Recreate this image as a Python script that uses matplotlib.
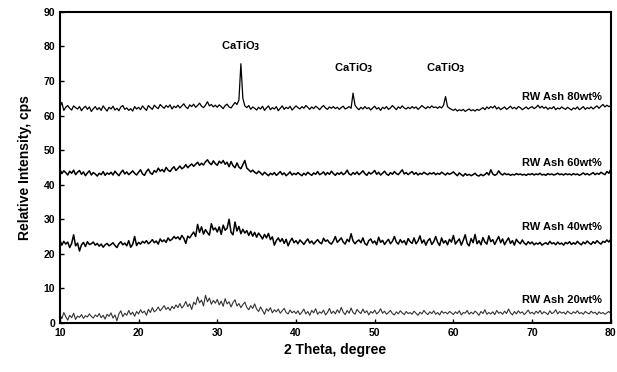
import matplotlib
matplotlib.use("Agg")
import matplotlib.pyplot as plt
import numpy as np

plt.rcParams['font.family'] = ['Liberation Sans', 'DejaVu Sans']

# 2 theta grid, 0.25 deg step from 10 to 80
two_theta = np.arange(10, 80.001, 0.25)

# RW Ash 80wt% (5 deg per row)
ash80 = [
    62.5, 63.8, 61.5, 62.4, 62.9, 62.1, 61.6, 62.8, 62.3, 61.9, 62.6, 61.4, 62.2, 62.7, 61.8, 62.5, 61.2, 62.0, 62.6, 61.7,
    62.3, 61.5, 62.8, 62.0, 61.3, 62.4, 61.9, 62.7, 61.6, 62.1, 61.4, 62.5, 62.9, 61.8, 62.2, 61.5, 62.0, 61.3, 62.6, 61.9,
    62.4, 61.7, 62.8, 62.1, 61.5, 62.9, 62.3, 61.8, 63.0, 62.4, 62.0, 63.2, 62.6, 62.1, 62.9, 62.4, 63.1, 61.9, 62.7, 62.3,
    63.0, 62.2, 62.8, 63.4, 62.5, 62.0, 63.1, 62.6, 63.3, 62.4, 62.9, 63.6, 62.7, 62.3, 63.0, 64.0, 62.8, 63.2, 62.5, 63.0,
    62.4, 63.1, 62.6, 62.0, 62.9, 63.3, 62.5, 62.2, 63.0, 63.8, 63.2, 64.5, 75.0, 65.0, 62.8, 62.3, 62.9, 61.8, 62.5, 62.1,
    61.6, 62.4, 61.9, 62.7, 61.5, 62.2, 62.8, 61.7, 62.3, 61.9, 62.6, 61.4, 62.1, 62.8, 61.8, 62.4, 62.0, 62.7, 61.6, 62.2,
    62.8, 62.3, 61.9, 62.6, 62.1, 62.9, 62.4, 61.8, 62.5, 62.0, 62.7, 62.3, 61.7, 62.4, 62.9, 62.2, 61.8, 62.5, 62.1, 62.6,
    62.0, 62.4, 61.8, 62.3, 62.7, 61.9, 62.2, 62.6, 62.1, 66.5, 63.0, 62.2, 61.7, 62.4, 61.9, 62.6, 62.0, 62.3, 61.6, 62.2,
    62.7, 61.9, 62.3, 61.5, 62.4, 62.0, 62.6, 61.8, 62.2, 62.9, 62.3, 61.7, 62.5, 62.1, 62.8, 62.2, 61.9, 62.4, 62.0, 62.6,
    62.1, 62.5, 61.8, 62.3, 62.9, 62.4, 62.0, 62.6, 62.2, 62.8, 62.3, 62.5, 62.1, 62.6, 62.2, 63.0, 65.5, 62.6, 62.1, 61.8,
    61.5, 61.9, 61.3, 61.7, 61.4, 61.8, 61.2, 61.6, 61.9, 61.4, 61.7, 61.3, 61.8, 61.5, 61.9, 62.3, 61.7, 62.5, 62.0, 62.6,
    62.2, 62.8, 61.9, 62.4, 61.7, 62.1, 62.5, 61.8, 62.2, 62.7, 62.0, 62.4, 61.9, 62.6, 62.3, 61.7, 62.1, 62.5, 61.9, 62.3,
    62.6, 62.0, 62.4, 63.0, 62.2, 62.7, 62.1, 62.5, 61.8, 62.3, 62.0, 62.6, 61.7, 62.2, 61.9, 62.5, 62.1, 61.8, 62.4, 62.0,
    61.6, 62.2, 61.9, 62.5, 61.7, 62.1, 62.6, 61.8, 62.3, 62.0, 62.5, 61.9, 62.4, 62.8, 62.1, 62.7, 63.2, 62.5, 63.0, 62.6,
    62.8,
]

# RW Ash 60wt%
ash60 = [
    44.5, 43.2, 44.0, 43.5, 42.8, 43.9, 43.3, 44.2, 42.9, 43.6, 44.1, 43.0, 43.7, 42.6, 43.4, 44.0, 42.8, 43.5, 43.1, 42.5,
    43.3, 42.9, 43.8, 42.7, 43.4, 43.0, 43.6, 42.8, 43.9, 43.2, 42.6, 43.5, 44.2, 43.1, 43.7, 42.9, 43.4, 44.0, 43.3, 42.8,
    43.6, 44.3, 43.1, 42.7, 43.8, 44.5, 43.4, 43.0, 44.1, 43.6, 44.8, 43.9, 44.4, 43.7, 45.0, 44.2, 43.8, 44.6, 45.2, 44.1,
    44.7, 45.4, 44.6, 45.0, 45.8, 44.9, 45.5, 46.0, 45.3, 45.9, 46.5, 45.6, 46.2, 45.7, 46.6, 47.2, 46.3, 45.8, 46.9, 46.1,
    45.6, 46.8, 46.2, 47.0, 45.9, 46.5, 45.2, 46.7, 45.5, 44.9, 46.3, 45.1, 44.6, 45.8, 47.0, 44.8, 44.3, 43.7, 44.2, 43.6,
    43.2, 43.9, 43.4, 42.8, 43.6, 43.1, 42.6, 43.3, 42.9, 43.5, 42.7, 43.2, 43.8, 42.9, 43.4, 42.6, 43.1, 43.7, 42.8, 43.3,
    42.9, 43.5, 43.0, 42.6, 43.3, 42.8, 43.6, 43.1, 42.7, 43.4, 43.0, 43.8, 42.9, 43.2, 43.7, 42.8, 43.5, 43.0, 43.9, 43.2,
    42.7, 43.4, 43.0, 43.6, 42.9, 43.3, 44.2, 43.1, 42.8, 43.5, 43.0, 43.7, 42.9, 43.4, 44.0, 43.2, 42.7, 43.6, 43.1, 43.5,
    44.1, 43.0, 43.6, 42.8, 43.3, 43.9, 43.1, 42.7, 43.5, 43.0, 43.8, 43.2, 42.9, 43.6, 44.3, 43.1, 43.5, 42.9, 43.4, 43.8,
    43.0, 43.5, 42.8, 43.3, 43.0, 43.6, 43.2, 42.9, 43.4, 43.1, 43.5, 42.9, 43.3, 43.0, 43.6, 43.2, 42.8, 43.4, 43.0, 43.3,
    43.7, 43.1, 42.6, 43.4, 42.9, 42.5, 43.2, 42.7, 43.0, 42.6, 42.9, 43.3, 42.7, 42.5, 43.0, 42.6, 42.9, 43.5, 42.8, 44.3,
    43.1, 42.7, 43.0, 44.0, 43.2, 42.8, 43.3, 42.9, 43.1, 42.7, 43.0, 42.8, 43.2, 42.9, 43.1, 42.8, 43.0, 42.7, 43.1, 42.9,
    43.2, 42.8, 43.1, 42.9, 43.3, 42.8, 43.0, 42.7, 43.2, 42.9, 43.1, 42.8, 43.0, 43.3, 42.9, 43.1, 42.8, 43.2, 42.9, 43.1,
    42.8, 43.2, 42.9, 43.1, 42.7, 43.0, 43.4, 42.9, 43.2, 42.8, 43.1, 43.5, 42.9, 43.3, 43.0, 43.6, 43.2, 42.9, 43.8, 43.3,
    44.5,
]

# RW Ash 40wt%
ash40 = [
    24.0, 22.5, 23.6, 22.8, 23.4, 21.8, 23.0, 25.5, 22.3, 23.1, 20.8, 22.6, 23.3, 22.1, 23.5, 22.7, 22.9, 23.4, 22.5, 23.0,
    22.2, 22.8, 21.9, 22.6, 23.0, 22.3, 22.7, 23.2, 22.4, 21.8, 22.9, 23.5, 22.6, 23.1, 22.3, 23.8, 21.9, 22.7, 25.0, 22.4,
    23.3, 22.8, 23.6, 23.1, 23.8, 22.9, 23.4, 24.1, 23.2, 23.7, 22.8, 24.3, 23.5, 24.0, 23.3, 24.6, 23.8, 24.2, 25.0, 24.4,
    24.9, 24.1, 25.3, 24.5, 23.0, 25.1, 24.6, 25.5, 26.3, 25.0, 28.5, 26.2, 27.8, 25.7, 27.0, 26.1, 25.4, 28.7, 26.9, 27.5,
    26.3, 27.8, 25.6, 28.3, 26.8, 27.4, 30.0, 26.2, 25.5, 29.2, 26.6, 27.9, 25.8, 27.1, 26.0, 26.7, 25.3, 26.5, 25.1, 26.2,
    24.8, 26.0, 25.2, 24.3, 25.6, 24.6, 25.9, 24.1, 24.9, 22.5, 23.8, 24.6, 23.5, 24.4, 23.0, 24.2, 22.3, 23.6, 24.5, 23.2,
    23.8, 22.9, 24.0, 23.4, 22.7, 23.6, 24.3, 23.1, 23.7, 22.8, 23.5, 24.1, 23.3, 22.9, 24.5, 23.6, 24.0, 23.2, 22.8, 23.7,
    25.0, 23.3, 23.9, 24.6, 23.4, 22.8, 24.2, 23.5, 25.8, 23.7, 22.9, 23.6, 24.0, 23.2, 24.6, 23.0, 22.5, 23.8, 24.3, 23.1,
    23.7, 22.6, 24.8, 23.3, 23.9, 22.7, 23.5, 24.2, 22.9, 23.6, 25.0, 23.4, 22.8, 24.1, 23.2, 23.8, 22.6, 24.4, 23.5, 23.0,
    24.6, 22.9, 23.7, 25.2, 23.1, 24.0, 22.5, 23.8, 24.4, 22.7, 23.5, 25.0, 23.3, 22.4, 24.6, 23.1, 23.8, 22.6, 24.2, 23.4,
    25.3, 22.8, 23.6, 24.3, 22.5, 23.9, 25.5, 23.0, 22.3, 24.4, 23.2, 25.6, 22.9, 23.8, 22.6, 24.7, 23.4, 22.8, 25.2, 23.5,
    24.1, 22.7, 23.9, 25.0, 23.2, 24.3, 22.6, 23.7, 24.6, 23.0, 23.8, 22.5, 24.2, 23.4, 22.9, 24.0, 23.1, 22.6, 23.5, 22.9,
    23.4, 22.6, 23.1, 22.8, 23.3, 22.5, 22.9, 23.2, 22.7, 23.6, 22.9, 23.2, 22.6, 23.4, 22.8, 23.1, 22.5, 23.3, 22.9, 23.5,
    22.7, 23.2, 22.8, 23.6, 23.0, 22.6, 23.4, 22.9, 23.7, 23.1, 22.7, 23.5, 23.0, 23.8, 23.2, 22.8, 23.6, 23.3, 24.0, 23.4,
    24.2,
]

# RW Ash 20wt%
ash20 = [
    2.5, 1.2, 3.0, 1.8, 0.8, 2.2, 1.5, 2.8, 1.0, 2.0, 1.6, 2.4, 1.3, 2.1, 1.7, 2.6, 1.9, 1.4, 2.3, 1.8,
    2.7, 1.5, 2.2, 1.1, 2.5, 1.9, 2.9, 1.4, 2.3, 0.6, 2.6, 3.5, 1.8, 2.8, 2.2, 3.6, 2.4, 3.1, 1.9, 3.3,
    2.6, 3.8, 2.9, 3.4, 2.2, 3.9, 3.0, 4.4, 3.2, 3.7, 4.6, 3.5, 4.2, 5.0, 3.9, 4.5, 3.6, 4.8, 4.1, 5.2,
    4.4, 5.6, 4.3, 5.0, 6.2, 4.7, 5.5, 3.9, 6.0, 5.3, 7.5, 5.8, 6.6, 4.9, 8.0, 6.1, 7.2, 5.4, 6.5, 5.7,
    6.8, 5.2, 6.3, 4.8, 7.0, 5.5, 6.1, 4.6, 5.9, 6.7, 4.9, 5.6, 4.4, 5.3, 6.0, 4.5, 3.8, 5.0, 4.2, 5.5,
    4.0, 3.3, 4.6, 3.6, 2.5, 4.1, 3.4, 4.4, 2.9, 3.8, 3.2, 4.0, 2.8, 3.5, 4.2, 3.0, 2.6, 3.7, 2.9, 3.4,
    2.7, 3.5, 2.4, 3.1, 4.0, 2.6, 3.3, 2.2, 3.6, 2.9, 4.1, 2.5, 3.2, 2.8, 3.7, 2.3, 3.0, 4.2, 2.7, 3.4,
    2.6, 3.8, 2.9, 4.5, 3.1, 2.4, 3.6, 2.8, 4.3, 3.0, 2.5, 3.9, 3.2, 2.7, 4.0, 2.9, 3.5, 2.3, 3.3, 2.8,
    3.7, 2.6, 3.1, 4.1, 2.8, 3.4, 2.5, 3.0, 3.6, 2.7, 2.3, 3.2, 2.6, 3.5, 2.9, 2.4, 3.3, 2.7, 3.0, 2.5,
    3.4, 2.8, 2.2, 3.1, 2.6, 3.6, 2.9, 2.4, 3.2, 2.7, 3.5, 2.5, 3.0, 2.3, 3.4, 2.8, 3.1, 2.6, 3.3, 2.9,
    2.4, 3.2, 2.7, 3.5, 2.3, 3.0, 2.8, 3.6, 2.5, 3.1, 2.6, 3.4, 2.9, 2.2, 3.3, 2.7, 3.8, 2.5, 3.0, 2.6,
    3.2, 2.4, 3.6, 2.8, 3.1, 2.5, 3.4, 2.7, 4.0, 2.9, 2.3, 3.3, 2.6, 3.5, 2.8, 3.2, 2.4, 3.0, 3.7, 2.7,
    3.1, 2.5, 3.4, 2.8, 3.6, 2.6, 3.2, 2.9, 2.4, 3.5, 2.7, 3.0, 3.8, 2.6, 3.3, 2.8, 3.1, 2.5, 3.4, 2.9,
    2.6, 3.2, 2.8, 3.5, 2.7, 3.0, 2.5, 3.3, 2.9, 2.6, 3.4, 2.8, 3.1, 2.4, 3.2, 2.7, 3.0, 2.5, 2.9, 3.3,
    2.7,
]

series_labels = ["RW Ash 80wt%", "RW Ash 60wt%", "RW Ash 40wt%", "RW Ash 20wt%"]
label_y = [65.4, 46.3, 27.8, 6.7]

peak_x = [33.0, 47.3, 59.0]
peak_text_y = [80.0, 73.8, 73.8]

fig = plt.figure(figsize=(6.17, 3.72), dpi=100)
ax = fig.add_axes([0.097, 0.132, 0.893, 0.836])

ax.plot(two_theta, ash80, color='black', lw=0.9)
ax.plot(two_theta, ash60, color='black', lw=1.1)
ax.plot(two_theta, ash40, color='black', lw=1.1)
ax.plot(two_theta, ash20, color='#333333', lw=0.8)

for lab, ly in zip(series_labels, label_y):
    ax.text(78.8, ly, lab, ha='right', va='center', fontsize=8,
            fontweight='bold')

for px, py in zip(peak_x, peak_text_y):
    ax.text(px, py, "CaTiO$_\\mathbf{3}$", ha='center', va='center',
            fontsize=8, fontweight='bold')

ax.set_xlim(10, 80)
ax.set_ylim(0, 90)
ax.set_xticks(np.arange(10, 81, 10))
ax.set_yticks(np.arange(0, 91, 10))
ax.tick_params(direction='in', length=3, width=1, labelsize=7.5)
for lbl in ax.get_xticklabels() + ax.get_yticklabels():
    lbl.set_fontweight('bold')
for sp in ax.spines.values():
    sp.set_linewidth(1.5)

ax.set_xlabel("2 Theta, degree", fontsize=10, fontweight='bold', labelpad=4)
ax.set_ylabel("Relative Intensity, cps", fontsize=10, fontweight='bold', labelpad=8)

fig.savefig("out.png", dpi=100)
